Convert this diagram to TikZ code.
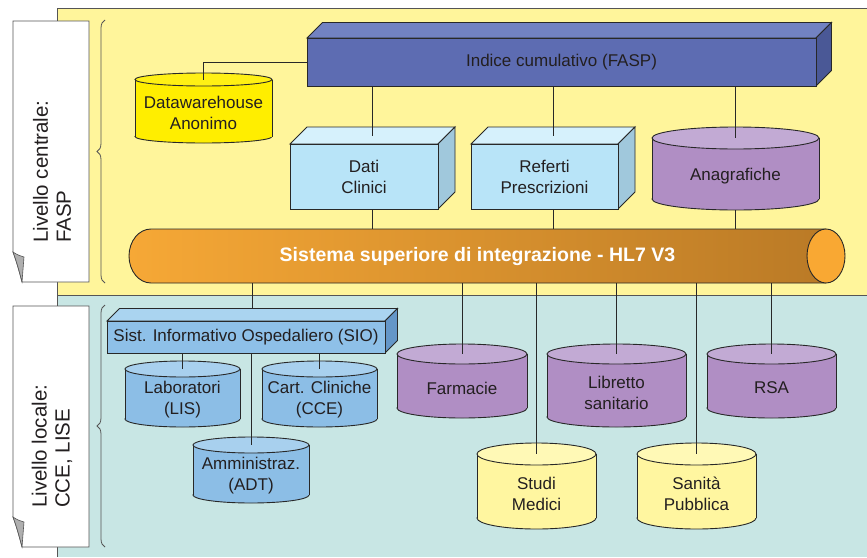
\documentclass[tikz,border=0pt]{standalone}
\usepackage{fontspec}
\setmainfont{Liberation Sans}
\usetikzlibrary{decorations.pathreplacing}

% palette
\definecolor{bgyellow}{RGB}{255,245,155}
\definecolor{bgteal}{RGB}{200,230,228}
\definecolor{lineclr}{RGB}{40,40,40}
\definecolor{cardline}{RGB}{85,85,85}
\definecolor{foldgray}{RGB}{175,175,175}
\definecolor{txtclr}{RGB}{35,31,32}
\definecolor{ind-front}{RGB}{93,108,178}
\definecolor{ind-top}{RGB}{114,130,194}
\definecolor{ind-side}{RGB}{74,88,150}
\definecolor{lb-front}{RGB}{184,228,248}
\definecolor{lb-top}{RGB}{214,241,252}
\definecolor{lb-side}{RGB}{160,200,220}
\definecolor{sio-front}{RGB}{142,192,232}
\definecolor{sio-top}{RGB}{170,212,240}
\definecolor{sio-side}{RGB}{100,150,200}
\definecolor{cylblue}{RGB}{140,190,230}
\definecolor{cylbluetop}{RGB}{168,208,238}
\definecolor{cylpurple}{RGB}{176,142,196}
\definecolor{cylpurpletop}{RGB}{194,170,212}
\definecolor{cylgold}{RGB}{255,238,0}
\definecolor{cylgoldtop}{RGB}{255,240,20}
\definecolor{cylpale}{RGB}{255,246,160}
\definecolor{cylpaletop}{RGB}{255,249,182}
\definecolor{pipeL}{RGB}{246,168,54}
\definecolor{pipeR}{RGB}{186,122,38}
\definecolor{pipeCap}{RGB}{249,168,51}

% database drum: name, x-left, x-right, y-top, y-bottom, ellipse ry, body, lid, text
\newcommand\dbdrum[9]{%
  \pgfmathsetmacro\dbx{(#2+#3)/2}%
  \pgfmathsetmacro\dbr{(#3-#2)/2}%
  \pgfmathsetmacro\dbt{#4+#6}%
  \pgfmathsetmacro\dbb{#5-#6}%
  \filldraw[outl, fill=#7] (\dbx,\dbb) ellipse [x radius=\dbr pt, y radius=#6pt];
  \fill[#7] (#2,\dbt) rectangle (#3,\dbb);
  \draw[outl] (#2,\dbt) -- (#2,\dbb) (#3,\dbt) -- (#3,\dbb);
  \filldraw[outl, fill=#8] (\dbx,\dbt) ellipse [x radius=\dbr pt, y radius=#6pt];
  \coordinate (#1-top) at (\dbx,\dbt);
  \coordinate (#1-bot) at (\dbx,#5);
  \node[lbl] (#1) at (\dbx,{(\dbt+#5)/2+2}) {#9};
}

% 3D block: name, x1, y1, x2, y2 (front face), depth, colour set, text
\newcommand\blockthree[8]{%
  \filldraw[outl, fill=#7-top] (#2,#3) -- ({#2+#6},{#3-#6}) -- ({#4+#6},{#3-#6}) -- (#4,#3) -- cycle;
  \filldraw[outl, fill=#7-side] (#4,#3) -- ({#4+#6},{#3-#6}) -- ({#4+#6},{#5-#6}) -- (#4,#5) -- cycle;
  \filldraw[outl, fill=#7-front] (#2,#3) rectangle (#4,#5);
  \coordinate (#1-top) at ({(#2+#4+#6)/2},{#3-#6/2});
  \coordinate (#1-rear) at ({(#2+#4+#6)/2},{#3-#6});
  \node[lbl, minimum width={#4-#2}, minimum height={#5-#3}] (#1) at ({(#2+#4)/2},{(#3+#5)/2}) {#8};
}

% level card with folded corner: name, y-top, y-bottom, text
\newcommand\levelcard[4]{%
  \filldraw[draw=cardline, line width=0.8pt, fill=white]
    (13,#2) -- (89,#2) -- (89,#3) -- (22,#3)
    .. controls (19,{#3-12}) and (16,{#3-22}) .. (13,{#3-30}) -- cycle;
  \filldraw[draw=cardline, line width=0.6pt, fill=foldgray]
    (13,{#3-30}) .. controls (17,{#3-27}) and (21,{#3-26}) .. (24,{#3-25})
    -- (22,#3) .. controls (19,{#3-12}) and (16,{#3-22}) .. (13,{#3-30}) -- cycle;
  \node[cardtext, anchor=west] (#1) at (52,{#3-39}) {#4};
}

\begin{document}
\begin{tikzpicture}[x=1pt, y=-1pt,
  outl/.style={draw=lineclr, line width=0.9pt},
  wire/.style={draw=lineclr, line width=0.8pt},
  frame/.style={draw=cardline, line width=0.7pt},
  lbl/.style={text=txtclr, font=\fontsize{17}{21}\selectfont, align=center, inner sep=0pt},
  cardtext/.style={rotate=90, text=txtclr, font=\fontsize{20.5}{23}\selectfont, align=left, inner sep=0pt},
  pipetext/.style={text=white, font=\bfseries\fontsize{19.5}{22}\selectfont, inner sep=0pt},
  brc/.style={draw=cardline, line width=0.8pt, decorate, decoration={brace, amplitude=8pt}}]

\useasboundingbox (0,0) rectangle (867,557);
\fill[white] (0,0) rectangle (867,557);

% the two levels
\fill[bgyellow] (57,8) rectangle (867,295);
\fill[bgteal] (57,295) rectangle (867,557);
\draw[frame] (867,8) -- (57,8) -- (57,557) (57,295) -- (867,295);

\levelcard{central}{21}{282}{Livello centrale:\\FASP}
\levelcard{local}{306}{547}{Livello locale:\\CCE, LISE}
\draw[brc] (105,283) -- (105,20);
\draw[brc] (105,547) -- (105,305);

% central level
\blockthree{ind}{307}{38}{816}{86}{15.5}{ind}{Indice cumulativo (FASP)}
\dbdrum{dw}{135}{272}{73}{143}{6.5}{cylgold}{cylgoldtop}{Datawarehouse\\Anonimo}
\blockthree{dati}{290}{144}{438}{209}{17}{lb}{Dati\\Clinici}
\blockthree{ref}{471}{144}{618}{209}{17}{lb}{Referti\\Prescrizioni}
\dbdrum{ana}{652}{819}{127}{210}{11}{cylpurple}{cylpurpletop}{Anagrafiche}

% integration bus
\shade[left color=pipeL, right color=pipeR]
  (826,229) -- (151,229) .. controls (138.85,229) and (129,241.1) .. (129,256)
  .. controls (129,270.9) and (138.85,283) .. (151,283) -- (826,283) -- cycle;
\draw[outl]
  (826,229) -- (151,229) .. controls (138.85,229) and (129,241.1) .. (129,256)
  .. controls (129,270.9) and (138.85,283) .. (151,283) -- (826,283);
\filldraw[outl, fill=pipeCap] (826,256) ellipse [x radius=19pt, y radius=27pt];
\node[pipetext, minimum width=697, minimum height=54] (pipe) at (477.5,256)
  {Sistema superiore di integrazione - HL7 V3};

% local level
\blockthree{sio}{107}{321}{385}{353}{12.5}{sio}{Sist. Informativo Ospedaliero (SIO)}
\dbdrum{lab}{125}{240}{361}{427}{8}{cylblue}{cylbluetop}{Laboratori\\(LIS)}
\dbdrum{cce}{262}{377}{361}{427}{8}{cylblue}{cylbluetop}{Cart. Cliniche\\(CCE)}
\dbdrum{adt}{193}{309}{437}{503}{8}{cylblue}{cylbluetop}{Amministraz.\\(ADT)}
\dbdrum{far}{397}{527}{344}{418}{10}{cylpurple}{cylpurpletop}{Farmacie}
\dbdrum{lib}{547}{686}{344}{427}{10}{cylpurple}{cylpurpletop}{Libretto\\sanitario}
\dbdrum{rsa}{707}{836}{344}{418}{10}{cylpurple}{cylpurpletop}{RSA}
\dbdrum{stu}{477}{596}{443}{529}{11}{cylpale}{cylpaletop}{Studi\\Medici}
\dbdrum{san}{637}{756}{443}{529}{11}{cylpale}{cylpaletop}{Sanità\\Pubblica}

% connections
\draw[wire] (ind.west) -| (dw-top);
\draw[wire] (ind.south -| dati-top) -- (dati-top);
\draw[wire] (ind.south -| ref-top) -- (ref-top);
\draw[wire] (ind.south -| ana-top) -- (ana-top);
\draw[wire] (dati.south -| dati-top) -- (pipe.north -| dati-top);
\draw[wire] (ref.south -| ref-top) -- (pipe.north -| ref-top);
\draw[wire] (ana-bot) -- (pipe.north -| ana-bot);

\draw[wire] (pipe.south -| sio-rear) -- (sio-rear);
\draw[wire] (sio.south -| lab-top) -- (lab-top);
\draw[wire] (sio.south -| cce-top) -- (cce-top);
\draw[wire] (sio.south -| adt-top) -- (adt-top);

\draw[wire] (pipe.south -| far-top) -- (far-top);
\draw[wire] (pipe.south -| stu-top) -- (stu-top);
\draw[wire] (pipe.south -| lib-top) -- (lib-top);
\draw[wire] (pipe.south -| san-top) -- (san-top);
\draw[wire] (pipe.south -| rsa-top) -- (rsa-top);
\end{tikzpicture}
\end{document}
